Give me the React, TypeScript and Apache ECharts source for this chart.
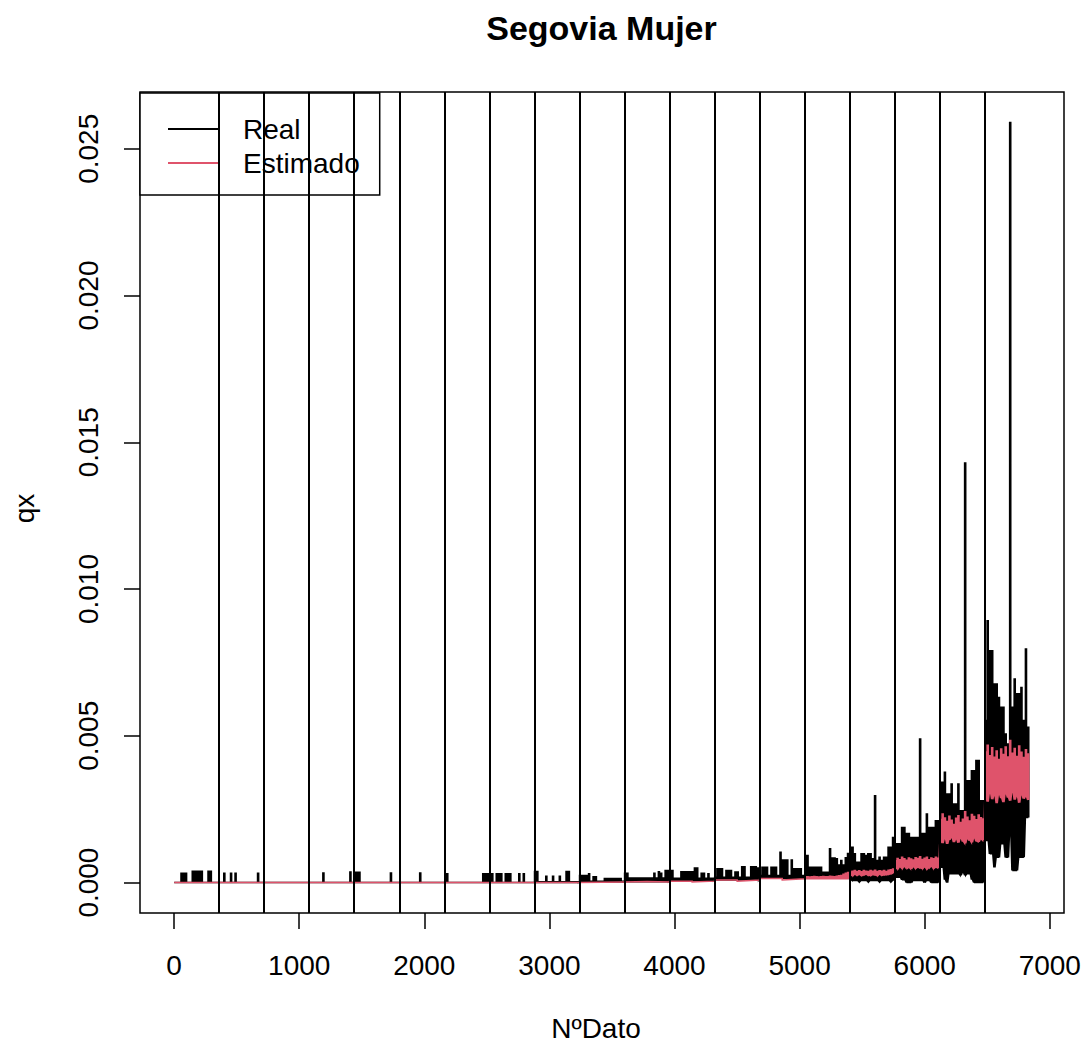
import React, { useEffect, useRef } from "react";
import * as echarts from "echarts";

// Each row is one block of 360 consecutive records (NºDato).
// Values are qx × 10^4; a row holds the successive peak / trough
// levels of the series across that block.
const GROUP_SIZE = 360;

const realPeak: number[][] = [
  [0, 0, 0, 3.2, 3.2, 3.2, 0, 0, 3.9, 3.9, 3.9, 3.9, 3.9, 0, 0, 3.9, 3.9, 0, 0, 0],
  [0, 0, 3.2, 0, 0, 3.2, 0, 3.2, 0, 0, 0, 0, 0, 0, 0, 0, 0, 3.2, 0, 0],
  [0],
  [0, 0, 0, 0, 0, 0, 3.3, 0, 0, 0, 0, 0, 0, 0, 0, 0, 0, 0, 3.6, 0],
  [3.5, 3.5, 3.5, 0, 0, 0, 0, 0, 0, 0, 0, 0, 0, 0, 0, 0, 3.3, 0, 0, 0],
  [0, 0, 0, 0, 0, 0, 0, 0, 0, 3.3, 0, 0, 0, 0, 0, 0, 0, 0, 0, 0],
  [0, 3.0, 0, 0, 0, 0, 0, 0, 0, 0, 0, 0, 0, 0, 0, 0, 0, 3.0, 3.0, 3.0],
  [3.0, 3.0, 0, 3.0, 3.0, 3.0, 0, 3.0, 3.0, 3.0, 0, 0, 0, 3.0, 0, 3.0, 0, 0, 0, 0],
  [3.8, 3.8, 0.3, 0.3, 0.3, 2.2, 0.3, 0.3, 2.2, 0.3, 0.3, 2.2, 0.3, 0.3, 3.8, 3.8, 0.3, 0.3, 0.3, 0.3],
  [2.4, 2.4, 2.4, 2.4, 3.0, 0.5, 2.0, 2.0, 0.5, 0.5, 0.5, 1.4, 1.4, 1.4, 1.4, 1.4, 1.4, 1.4, 1.4, 0.5],
  [3.2, 3.2, 1.6, 1.6, 1.6, 1.6, 1.6, 1.6, 1.6, 1.6, 1.6, 1.6, 1.6, 3.2, 1.6, 3.7, 3.2, 1.6, 4.1, 4.1],
  [4.1, 4.1, 1.5, 1.5, 1.5, 3.7, 3.7, 3.7, 3.7, 3.7, 3.7, 5.0, 5.0, 1.5, 3.2, 3.2, 1.5, 3.0, 1.5, 1.5],
  [1.8, 4.7, 4.7, 4.7, 1.8, 4.1, 4.1, 4.1, 1.8, 3.6, 3.6, 1.8, 5.4, 5.4, 1.8, 1.8, 5.4, 5.4, 5.4, 5.0],
  [2.4, 5.2, 5.2, 5.2, 2.4, 5.2, 5.2, 5.2, 2.4, 10.3, 7.7, 7.7, 7.7, 2.4, 7.7, 4.7, 4.7, 4.7, 4.7, 2.4],
  [9.2, 9.2, 5.2, 5.2, 5.2, 5.2, 5.2, 5.2, 3.5, 3.5, 3.5, 11.5, 8.4, 8.4, 8.1, 6.0, 7.5, 6.0, 8.5, 9.9],
  [12.0, 12.0, 9.8, 6.9, 6.9, 9.8, 9.8, 9.2, 9.8, 9.8, 8.1, 29.6, 7.5, 8.6, 7.5, 8.6, 8.6, 12.0, 12.0, 15.4],
  [13.2, 13.2, 13.2, 18.8, 18.8, 16.7, 16.7, 15.4, 15.4, 15.4, 15.4, 48.9, 16.7, 16.7, 23.4, 18.8, 18.8, 18.8, 21.1, 21.1],
  [34.2, 34.2, 37.6, 30.2, 30.2, 33.6, 26.8, 26.8, 33.6, 24.5, 24.5, 143.0, 34.7, 34.7, 38.1, 38.1, 41.6, 41.6, 27.9, 27.9],
  [55.2, 89.2, 79.0, 79.0, 67.7, 67.7, 63.1, 59.7, 59.7, 50.6, 47.2, 259.0, 59.7, 69.4, 64.3, 64.3, 66.5, 55.2, 79.6, 52.9],
];

// A single value in a row means the level is the same all across the block.
const realTrough: number[][] = [
  [0], [0], [0], [0], [0], [0], [0], [0], [0],
  [0.2],
  [0.3],
  [0.6],
  [0.9],
  [1.5],
  [1.6],
  [1.0, 0.7, 0.7, 0.7, 0.3, 0.7, 0.7, 0.7, 0.3, 0.7, 0.7, 0.7, 0.7, 0.3, 0.7, 0.7, 0.7, 0.7, 0.3, 0.7],
  [1.8, 1.8, 1.8, 1.0, 1.0, 0, 0, 0, 0.7, 0.7, 0.7, 0.7, 0.7, 0, 0.7, 0.7, 0, 0, 0, 0],
  [5.2, 5.2, 1.0, 0, 3.0, 3.0, 3.0, 3.0, 3.0, 2.5, 3.5, 2.5, 3.0, 3.0, 1.0, 0, 0, 0, 0, 0],
  [14.3, 14.3, 9.8, 9.8, 5.2, 8.6, 8.6, 13.2, 13.2, 8.6, 8.6, 17.7, 4.1, 4.1, 4.1, 8.6, 8.6, 8.6, 22.2, 22.2],
];

const estPeak: number[][] = [
  [0.05], [0.05], [0.05], [0.05], [0.05], [0.05], [0.05], [0.05], [0.05],
  [0.1],
  [0.4],
  [0.5],
  [0.9],
  [1.4],
  [2.0, 2.0, 1.9, 2.0, 2.1, 2.0, 1.9, 2.0, 2.1, 2.0, 2.0, 2.2, 2.1, 2.0, 2.2, 2.3, 2.4, 2.8, 3.2, 3.4],
  [3.6, 3.9, 4.1, 3.8, 4.0, 3.7, 4.1, 3.9, 3.8, 4.1, 3.9, 4.2, 3.8, 4.0, 3.9, 4.1, 3.8, 4.2, 4.4, 4.6],
  [7.4, 8.2, 7.8, 8.6, 8.1, 7.6, 8.4, 8.0, 7.7, 8.5, 8.2, 8.8, 7.9, 8.3, 8.6, 7.8, 8.4, 8.1, 8.6, 8.3],
  [21.5, 23.4, 22.0, 20.8, 22.6, 21.2, 19.8, 21.9, 22.8, 20.5, 21.6, 24.1, 22.3, 21.0, 23.2, 22.5, 21.4, 23.0, 22.1, 21.7],
  [44.5, 46.8, 43.2, 45.9, 42.7, 44.8, 41.9, 45.5, 43.6, 46.2, 42.8, 48.4, 44.1, 45.7, 43.0, 46.5, 44.4, 42.6, 45.3, 43.8],
];

const estTrough: number[][] = [
  [0.05], [0.05], [0.05], [0.05], [0.05], [0.05], [0.05], [0.05], [0.05],
  [0.05],
  [0.2],
  [0.2],
  [0.5],
  [0.9],
  [1.3],
  [2.6, 2.4, 2.8, 2.5, 2.7, 2.4, 2.6, 2.8, 2.5, 2.4, 2.7, 2.6, 2.4, 2.8, 2.5, 2.6, 2.7, 2.8, 3.0, 3.2],
  [5.0, 4.7, 5.3, 4.9, 5.5, 4.8, 5.1, 4.7, 5.4, 4.9, 5.2, 5.0, 4.8, 5.3, 4.7, 5.1, 5.5, 4.9, 5.2, 5.0],
  [14.2, 13.5, 15.1, 13.2, 14.6, 15.4, 13.8, 14.9, 13.6, 15.2, 14.0, 13.4, 15.0, 14.3, 13.7, 15.3, 14.1, 13.9, 14.8, 14.4],
  [29.3, 27.6, 30.8, 28.4, 29.9, 27.1, 30.2, 28.8, 27.4, 30.5, 29.0, 27.9, 31.2, 28.3, 29.6, 27.2, 30.1, 28.6, 29.4, 28.1],
];

const xTicks = [0, 1000, 2000, 3000, 4000, 5000, 6000, 7000];
const yTicks = [0, 0.005, 0.01, 0.015, 0.02, 0.025];

const SCALE = 1e-4;
const FONT = "'Liberation Sans', Arial, Helvetica, sans-serif";
const PINK = "#DF536B";

const WIDTH = 1087;
const HEIGHT = 1054;
// The plot frame, and a slightly larger plotting grid whose lower-left
// margin holds the tick marks that hang off the frame.
const FRAME = { left: 140, right: 23, top: 92, bottom: 141 };
const TICK_LEN = 16;
const SLACK = 4;
const PLOT = {
  left: FRAME.left - TICK_LEN,
  right: FRAME.right - SLACK,
  top: FRAME.top - SLACK,
  bottom: FRAME.bottom - TICK_LEN,
};

// Turn the peak / trough rows into a pulse-shaped polyline over the record
// index: each sample rises from its trough to its peak and falls back.
function buildTrace(peaks: number[][], troughs: number[][]): [number, number][] {
  const pts: [number, number][] = [];
  peaks.forEach((row, k) => {
    const lowRow = troughs[k];
    const step = GROUP_SIZE / row.length;
    row.forEach((hi, i) => {
      const lo = lowRow.length === 1 ? lowRow[0] : lowRow[i];
      const x = k * GROUP_SIZE + 1 + i * step;
      pts.push([x, lo * SCALE]);
      pts.push([x, hi * SCALE]);
      pts.push([x + step / 2, hi * SCALE]);
      pts.push([x + step / 2, lo * SCALE]);
    });
  });
  return pts;
}

export default function App() {
  const ref = useRef<HTMLDivElement>(null);

  useEffect(() => {
    if (!ref.current) return;
    const chart = echarts.init(ref.current, null, { renderer: "svg" });

    const real = buildTrace(realPeak, realTrough);
    const est = buildTrace(estPeak, estTrough);

    // R-style frame ranges: data extent widened by 4% on each side
    const nRecords = realPeak.length * GROUP_SIZE;
    const xPad = 0.04 * (nRecords - 1);
    const yMaxData = Math.max(...realPeak.flat(), ...estPeak.flat()) * SCALE;
    const yPad = 0.04 * yMaxData;
    const fx0 = 1 - xPad;
    const fx1 = nRecords + xPad;
    const fy0 = -yPad;
    const fy1 = yMaxData + yPad;

    // Extend the ranges so the frame keeps its scale inside the larger grid
    const frameW = WIDTH - FRAME.left - FRAME.right;
    const frameH = HEIGHT - FRAME.top - FRAME.bottom;
    const ux = (fx1 - fx0) / frameW;
    const uy = (fy1 - fy0) / frameH;
    const xMin = fx0 - TICK_LEN * ux;
    const xMax = fx1 + SLACK * ux;
    const yMin = fy0 - TICK_LEN * uy;
    const yMax = fy1 + SLACK * uy;

    // Group separators run from the bottom to the top of the frame
    const breaks = realPeak.slice(1).map((_, k) => [
      { coord: [(k + 1) * GROUP_SIZE, fy0] },
      { coord: [(k + 1) * GROUP_SIZE, fy1] },
    ]);

    const tickStroke = { color: "#000", width: 1.5 };

    chart.setOption({
      animation: false,
      backgroundColor: "#ffffff",
      textStyle: { fontFamily: FONT },
      title: {
        text: "Segovia Mujer",
        left: 601.5,
        top: 11,
        padding: 0,
        textAlign: "center",
        textStyle: { fontFamily: FONT, fontSize: 34, fontWeight: "bold", color: "#000", lineHeight: 34 },
      },
      legend: {
        data: ["Real", "Estimado"],
        orient: "vertical",
        left: 140,
        top: 93,
        padding: [22, 20, 18, 28],
        itemGap: 6,
        itemWidth: 50,
        itemHeight: 2,
        icon: "rect",
        selectedMode: false,
        backgroundColor: "#ffffff",
        borderColor: "#000",
        borderWidth: 1.5,
        borderRadius: 0,
        textStyle: { fontFamily: FONT, fontSize: 28, lineHeight: 28, color: "#000", padding: [0, 0, 0, 20] },
      },
      grid: [
        { ...PLOT, show: false },
        { ...FRAME, show: true, borderColor: "#000", borderWidth: 1.5 },
      ],
      xAxis: [
        {
          type: "value",
          gridIndex: 0,
          min: xMin,
          max: xMax,
          name: "NºDato",
          nameLocation: "middle",
          nameGap: 101 - TICK_LEN,
          nameTextStyle: { fontFamily: FONT, fontSize: 28, color: "#000" },
          axisLine: { show: false, onZero: false },
          splitLine: { show: false },
          axisTick: { show: true, inside: true, length: TICK_LEN, customValues: xTicks, lineStyle: tickStroke },
          axisLabel: {
            customValues: xTicks,
            margin: 38 - TICK_LEN,
            fontFamily: FONT,
            fontSize: 28,
            color: "#000",
            formatter: (v: number) => String(v),
          },
        },
        { type: "value", gridIndex: 1, min: fx0, max: fx1, show: false },
      ],
      yAxis: [
        {
          type: "value",
          gridIndex: 0,
          min: yMin,
          max: yMax,
          name: "qx",
          nameLocation: "middle",
          nameGap: 102 - TICK_LEN,
          nameTextStyle: { fontFamily: FONT, fontSize: 28, color: "#000" },
          axisLine: { show: false, onZero: false },
          splitLine: { show: false },
          axisTick: { show: true, inside: true, length: TICK_LEN, customValues: yTicks, lineStyle: tickStroke },
          axisLabel: {
            customValues: yTicks,
            rotate: 90,
            margin: 38 - TICK_LEN,
            fontFamily: FONT,
            fontSize: 28,
            color: "#000",
            formatter: (v: number) => v.toFixed(3),
          },
        },
        { type: "value", gridIndex: 1, min: fy0, max: fy1, show: false },
      ],
      series: [
        {
          name: "Real",
          type: "line",
          xAxisIndex: 0,
          yAxisIndex: 0,
          data: real,
          symbol: "none",
          showSymbol: false,
          itemStyle: { color: "#000" },
          lineStyle: { color: "#000", width: 1.5, join: "miter" },
          markLine: {
            silent: true,
            symbol: ["none", "none"],
            label: { show: false },
            lineStyle: { color: "#000", width: 2, type: "solid" },
            data: breaks,
          },
        },
        {
          name: "Estimado",
          type: "line",
          xAxisIndex: 0,
          yAxisIndex: 0,
          data: est,
          symbol: "none",
          showSymbol: false,
          itemStyle: { color: PINK },
          lineStyle: { color: PINK, width: 1.5, join: "miter" },
        },
      ],
    });

    return () => chart.dispose();
  }, []);

  return (
    <div
      ref={ref}
      style={{ position: "fixed", left: 0, top: 0, width: WIDTH, height: HEIGHT, background: "#fff" }}
    />
  );
}
